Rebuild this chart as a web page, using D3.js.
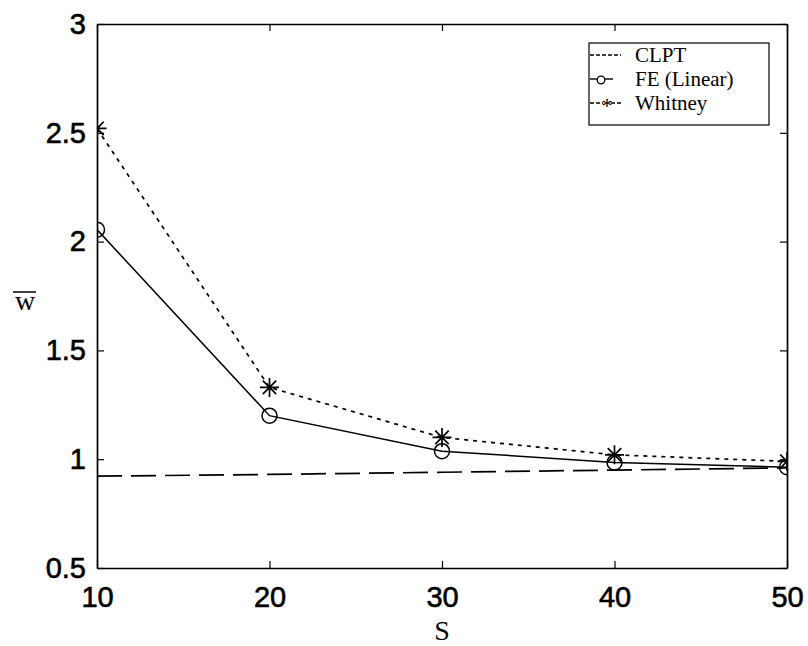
<!DOCTYPE html>
<html>
<head>
<meta charset="utf-8">
<script src="https://cdn.jsdelivr.net/npm/d3@7"></script>
<style>
  html, body { margin: 0; padding: 0; background: #fff; }
  svg { display: block; }
</style>
</head>
<body>
<svg id="chart" width="808" height="646"></svg>
<script>
// ---- data ----
const sValues = [10, 20, 30, 40, 50];
const clpt    = [0.922, 0.930, 0.940, 0.950, 0.960];
const feLinear = [2.055, 1.200, 1.037, 0.985, 0.963];
const whitney = [2.52, 1.33, 1.10, 1.02, 0.99];
const xTicks = [10, 20, 30, 40, 50];
const yTicks = [0.5, 1, 1.5, 2, 2.5, 3];
const legendLabels = ["CLPT", "FE (Linear)", "Whitney"];

// ---- layout ----
const W = 808, H = 646;
const m = { left: 97, right: 808 - 787, top: 24, bottom: 646 - 568 };
const svg = d3.select("#chart");

const x = d3.scaleLinear().domain([10, 50]).range([m.left, W - m.right]);
const y = d3.scaleLinear().domain([0.5, 3]).range([H - m.bottom, m.top]);

svg.append("defs").append("clipPath").attr("id", "clip")
  .append("rect")
  .attr("x", m.left).attr("y", m.top)
  .attr("width", x(50) - x(10)).attr("height", y(0.5) - y(3));

const tickFont = "'Liberation Sans', Arial, Helvetica, sans-serif";
const serif = "'Liberation Serif', 'Times New Roman', Times, serif";

// ---- axes (MATLAB-style inward ticks, full box) ----
const xAxisB = d3.axisBottom(x).tickValues(xTicks).tickSizeInner(-7).tickSizeOuter(0).tickPadding(14).tickFormat(d3.format("d"));
const xAxisT = d3.axisTop(x).tickValues(xTicks).tickSizeInner(-7).tickSizeOuter(0).tickFormat("");
const yAxisL = d3.axisLeft(y).tickValues(yTicks).tickSizeInner(-7).tickSizeOuter(0).tickPadding(14).tickFormat(d => d);
const yAxisR = d3.axisRight(y).tickValues(yTicks).tickSizeInner(-7).tickSizeOuter(0).tickFormat("");

function styleAxis(g) {
  g.select(".domain").attr("stroke", "#000").attr("stroke-width", 1.7);
  g.selectAll(".tick line").attr("stroke", "#000").attr("stroke-width", 1.2);
  g.selectAll(".tick text").attr("fill", "#000")
    .attr("stroke", "#000").attr("stroke-width", 0.6)
    .style("font-family", tickFont).style("font-size", "29px");
}

svg.append("g").attr("transform", `translate(0,${y(0.5)})`).call(xAxisB).call(styleAxis)
  .selectAll(".tick text").attr("dy", "0.85em");
svg.append("g").attr("transform", `translate(0,${y(3)})`).call(xAxisT).call(styleAxis);
svg.append("g").attr("transform", `translate(${x(10)},0)`).call(yAxisL).call(styleAxis)
  .selectAll(".tick text").attr("dx", "3");
svg.append("g").attr("transform", `translate(${x(50)},0)`).call(yAxisR).call(styleAxis);

// ---- series ----
const plot = svg.append("g").attr("clip-path", "url(#clip)");
const line = d3.line().x((d, i) => x(sValues[i])).y(d => y(d));

plot.append("path").datum(clpt)
  .attr("d", line).attr("fill", "none").attr("stroke", "#000")
  .attr("stroke-width", 1.7).attr("stroke-dasharray", "25,9");

plot.append("path").datum(feLinear)
  .attr("d", line).attr("fill", "none").attr("stroke", "#000")
  .attr("stroke-width", 1.5);

plot.append("path").datum(whitney)
  .attr("d", line).attr("fill", "none").attr("stroke", "#000")
  .attr("stroke-width", 1.7).attr("stroke-dasharray", "4,5");

// circle markers
plot.selectAll("circle.fe").data(feLinear).enter().append("circle")
  .attr("class", "fe")
  .attr("cx", (d, i) => x(sValues[i])).attr("cy", d => y(d)).attr("r", 7.5)
  .attr("fill", "none").attr("stroke", "#000").attr("stroke-width", 1.5);

// asterisk markers
function star(g, cx, cy, r) {
  const d = r * Math.SQRT1_2;
  const p = `M${cx - r},${cy}L${cx + r},${cy}M${cx},${cy - r}L${cx},${cy + r}` +
            `M${cx - d},${cy - d}L${cx + d},${cy + d}M${cx - d},${cy + d}L${cx + d},${cy - d}`;
  g.append("path").attr("d", p).attr("stroke", "#000").attr("stroke-width", 1.7).attr("fill", "none");
}
whitney.forEach((d, i) => star(plot, x(sValues[i]), y(d), 9.5));

// ---- axis labels ----
svg.append("text").attr("x", (x(10) + x(50)) / 2).attr("y", 640)
  .attr("text-anchor", "middle").style("font-family", serif).style("font-size", "28px")
  .text("S");

svg.append("text").attr("x", 25).attr("y", 310)
  .attr("text-anchor", "middle").style("font-family", serif).style("font-size", "28px")
  .text("w");
svg.append("line").attr("x1", 13).attr("x2", 36).attr("y1", 292).attr("y2", 292)
  .attr("stroke", "#000").attr("stroke-width", 1.5);

// ---- legend ----
const lg = svg.append("g");
lg.append("rect").attr("x", 589).attr("y", 43).attr("width", 180).attr("height", 82)
  .attr("fill", "#fff").attr("stroke", "#000").attr("stroke-width", 1.2);

const legY = [55, 79, 103];
const textY = [62, 86, 110];
legendLabels.forEach((lab, i) => {
  lg.append("text").attr("x", 635).attr("y", textY[i])
    .style("font-family", serif).style("font-size", "21px").attr("fill", "#000").text(lab);
});
// CLPT sample
lg.append("line").attr("x1", 590).attr("x2", 621).attr("y1", legY[0]).attr("y2", legY[0])
  .attr("stroke", "#000").attr("stroke-width", 1.4).attr("stroke-dasharray", "4,2");
// FE sample
lg.append("line").attr("x1", 590).attr("x2", 597).attr("y1", legY[1]).attr("y2", legY[1])
  .attr("stroke", "#000").attr("stroke-width", 1.4);
lg.append("line").attr("x1", 605).attr("x2", 613).attr("y1", legY[1]).attr("y2", legY[1])
  .attr("stroke", "#000").attr("stroke-width", 1.4);
lg.append("circle").attr("cx", 601).attr("cy", legY[1] + 1).attr("r", 3.8)
  .attr("fill", "none").attr("stroke", "#000").attr("stroke-width", 1.3);
// Whitney sample
lg.append("line").attr("x1", 590).attr("x2", 603).attr("y1", legY[2]).attr("y2", legY[2])
  .attr("stroke", "#000").attr("stroke-width", 1.4).attr("stroke-dasharray", "4,2");
lg.append("line").attr("x1", 611).attr("x2", 622).attr("y1", legY[2]).attr("y2", legY[2])
  .attr("stroke", "#000").attr("stroke-width", 1.4).attr("stroke-dasharray", "4,2");
lg.append("text").attr("x", 607).attr("y", legY[2] + 10).attr("text-anchor", "middle")
  .style("font-family", serif).style("font-size", "22px").text("*");
</script>
</body>
</html>
